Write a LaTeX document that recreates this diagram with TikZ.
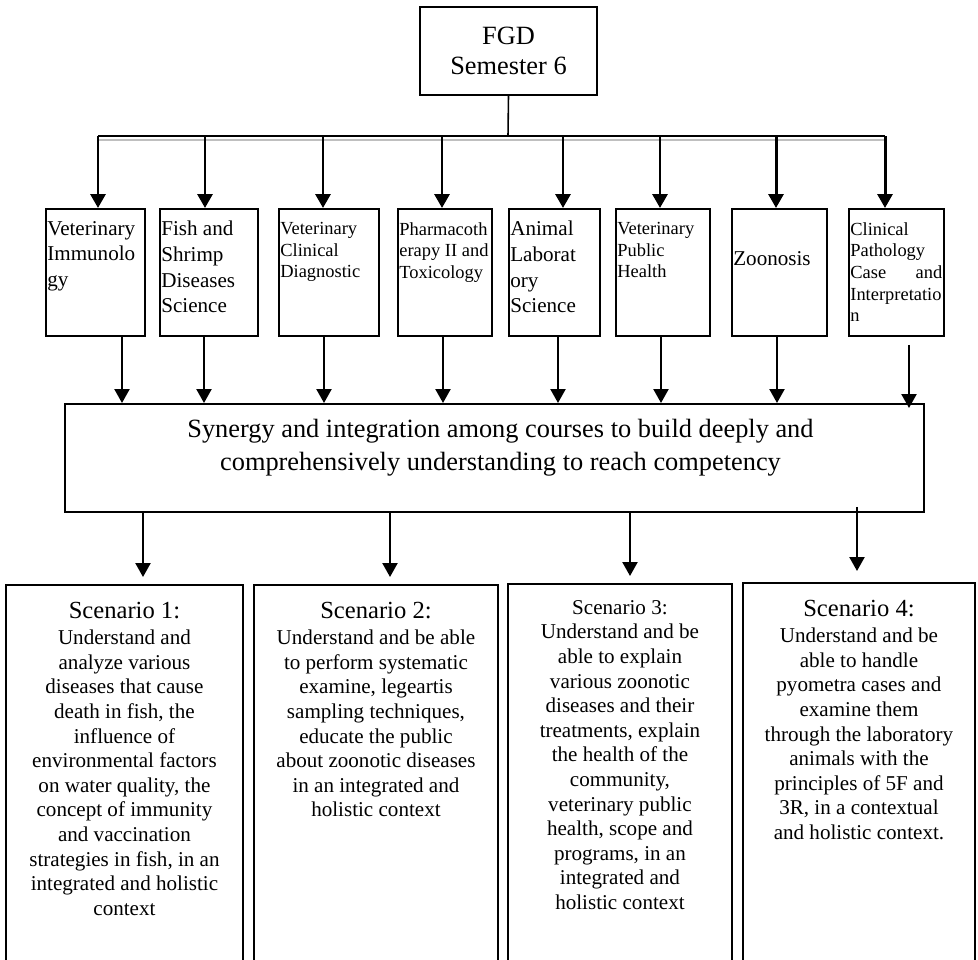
\documentclass[tikz,border=0pt]{standalone}
\usepackage{fontspec}
\setmainfont{Liberation Serif}
\usetikzlibrary{
	arrows.meta,
	calc,
	positioning,
}
\tikzset{
course node/.style={
	draw,
	line width=1.1pt,
	anchor=north west,
	minimum height=25.4mm,
	inner sep=0mm,
},
course text/.style={
	anchor=north west,
	inner sep=0mm,
	align=left,
	xshift=0.4mm,
	yshift=-2.6mm,
	font=\fontsize{12}{14.6}\selectfont,
},
small text/.style={
	yshift=-0.2mm,
	font=\fontsize{10.5}{12.3}\selectfont,
},
main node/.style={
	draw,
	line width=1.1pt,
	anchor=north west,
	inner sep=0mm,
},
scenario node/.style={
	draw,
	line width=1.1pt,
	anchor=north west,
	minimum height=78.2mm,
	inner sep=0mm,
},
scenario text/.style={
	anchor=north,
	inner sep=0mm,
	align=center,
	yshift=-3.6mm,
	font=\fontsize{12}{14}\selectfont,
},
top arrow/.style={-{Triangle[width=3mm,length=2.8mm]}, line width=1.7pt},
flow arrow/.style={-{Triangle[width=3mm,length=2.8mm]}, line width=1.3pt},
}

\begin{document}
\begin{tikzpicture}[x=0.2mm, y=-0.2mm]
\useasboundingbox (0,0) rectangle (978,959);
\clip (0,0) rectangle (978,959);

\node(fgd)[draw, line width=1.1pt, minimum width=35.4mm, minimum height=17.6mm, align=center, font=\fontsize{15}{17}\selectfont] at (508.5,51) {FGD\\Semester 6};

\coordinate (bar) at (508,136);
\coordinate (b1) at (98,136);
\coordinate (b2) at (205,136);
\coordinate (b3) at (323,136);
\coordinate (b4) at (442,136);
\coordinate (b5) at (563,136);
\coordinate (b6) at (660,136);
\coordinate (b7) at (776,136);
\coordinate (b8) at (885,136);

\node(c1)[course node, minimum width=19.8mm] at (45,208) {};
\node(c2)[course node, minimum width=19.6mm] at (159,208) {};
\node(c3)[course node, minimum width=20mm] at (278,208) {};
\node(c4)[course node, minimum width=18.8mm] at (397,208) {};
\node(c5)[course node, minimum width=18.2mm] at (508,208) {};
\node(c6)[course node, minimum width=18.8mm] at (615,208) {};
\node(c7)[course node, minimum width=19mm] at (731,208) {};
\node(c8)[course node, minimum width=19mm] at (848,208) {};

\node(c1t)[course text] at (c1.north west) {Veterinary\\Immunolo\\gy};
\node(c2t)[course text] at (c2.north west) {Fish and\\Shrimp\\Diseases\\Science};
\node(c3t)[course text, small text] at (c3.north west) {Veterinary\\Clinical\\Diagnostic};
\node(c4t)[course text, small text] at (c4.north west) {Pharmacoth\\erapy II and\\Toxicology};
\node(c5t)[course text] at (c5.north west) {Animal\\Laborat\\ory\\Science};
\node(c6t)[course text, small text] at (c6.north west) {Veterinary\\Public\\Health};
\node(c7t)[course text, yshift=-6mm] at (c7.north west) {Zoonosis};
\node(c8t)[course text, small text, text width=18.4mm] at (c8.north west) {Clinical\\Pathology\\Case\hfill and\\Interpretatio\\n};

\node(syn)[main node, minimum width=171.8mm, minimum height=21.6mm] at (64,403) {};
\node(synt)[anchor=north, inner sep=0mm, align=center, xshift=1.2mm, yshift=-3.2mm, font=\fontsize{15}{18.5}\selectfont] at (syn.north) {Synergy and integration among courses to build deeply and\\comprehensively understanding to reach competency};

\node(s1)[scenario node, minimum width=47.4mm] at (5,584) {};
\node(s2)[scenario node, minimum width=48.8mm] at (253,584) {};
\node(s3)[scenario node, minimum width=44.8mm] at (507,583) {};
\node(s4)[scenario node, minimum width=46.4mm] at (742,582) {};

\node(s1t)[scenario text] at (s1.north) {{\fontsize{14}{16}\selectfont Scenario 1:}\\[0.8pt]Understand and\\analyze various\\diseases that cause\\death in fish, the\\influence of\\environmental factors\\on water quality, the\\concept of immunity\\and vaccination\\strategies in fish, in an\\integrated and holistic\\context};
\node(s2t)[scenario text] at (s2.north) {{\fontsize{14}{16}\selectfont Scenario 2:}\\[0.8pt]Understand and be able\\to perform systematic\\examine, legeartis\\sampling techniques,\\educate the public\\about zoonotic diseases\\in an integrated and\\holistic context};
\node(s3t)[scenario text, yshift=0.2mm] at (s3.north) {Scenario 3:\\Understand and be\\able to explain\\various zoonotic\\diseases and their\\treatments, explain\\the health of the\\community,\\veterinary public\\health, scope and\\programs, in an\\integrated and\\holistic context};
\node(s4t)[scenario text] at (s4.north) {{\fontsize{14}{16}\selectfont Scenario 4:}\\[0.8pt]Understand and be\\able to handle\\pyometra cases and\\examine them\\through the laboratory\\animals with the\\principles of 5F and\\3R, in a contextual\\and holistic context.};

\draw[line width=0.9pt] (fgd.south) -- (bar);
\draw[gray!50, line width=1.3pt] ($(b1)+(0,4)$) -- ($(b8)+(0,4)$);
\draw[line width=1.3pt] (b1) -- (b8);

\foreach \i in {1,...,8}
\draw[top arrow] (b\i) -- (b\i |- c\i.north);

\foreach \i/\x in {1/122,2/204,3/324,4/443,5/558,6/661,7/777}
\draw[flow arrow] (c\i.south -| \x,0) -- (syn.north -| \x,0);
\draw[flow arrow, shorten <=1.6mm, shorten >=-1mm] (c8.south -| 909,0) -- (syn.north -| 909,0);

\foreach \i/\x in {1/143,2/390,3/630}
\draw[flow arrow, shorten >=1.4mm] (syn.south -| \x,0) -- (s\i.north -| \x,0);
\draw[flow arrow, shorten <=-1.2mm, shorten >=2.2mm] (syn.south -| 857,0) -- (s4.north -| 857,0);

\end{tikzpicture}
\end{document}
